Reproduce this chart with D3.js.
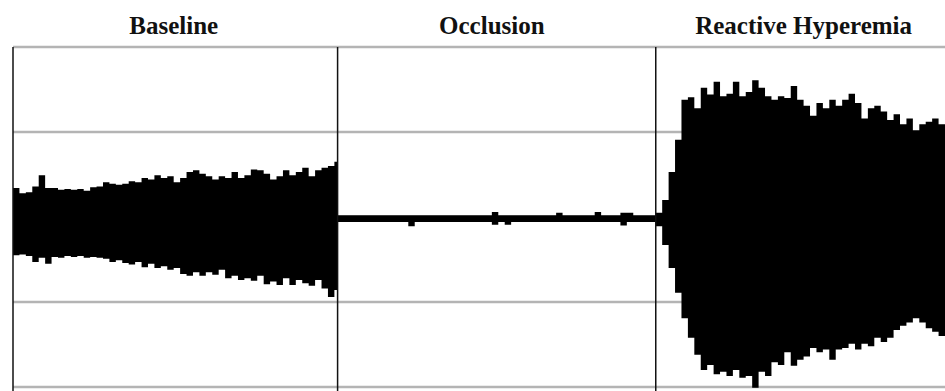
<!DOCTYPE html>
<html>
<head>
<meta charset="utf-8">
<script src="https://cdn.jsdelivr.net/npm/d3@7"></script>
<style>
  body { margin: 0; background: #fff; }
</style>
</head>
<body>
<figure id="chart" style="margin:0"></figure>
<script>
// phases (seconds)
const phaseNames = ["Baseline", "Occlusion", "Reactive Hyperemia"];
const phaseStart = [0, 101, 200];
const phaseLabelAt = [50, 149, 246];
const yTicks = [-2, -1, 0, 1, 2];

// envelope of the signal, sampled every 2 s
const baselineT = d3.range(0, 101, 2);
const baselineUpper = [0.34, 0.28, 0.29, 0.36, 0.49, 0.34, 0.34, 0.32, 0.33, 0.32, 0.33, 0.31, 0.35, 0.36, 0.41, 0.39, 0.38, 0.39, 0.42, 0.41,
  0.46, 0.44, 0.49, 0.46, 0.48, 0.41, 0.46, 0.53, 0.55, 0.51, 0.48, 0.44, 0.48, 0.46, 0.53, 0.46, 0.49, 0.56, 0.55, 0.51,
  0.44, 0.48, 0.55, 0.49, 0.53, 0.58, 0.48, 0.55, 0.58, 0.60, 0.65];
const baselineLower = [-0.45, -0.44, -0.46, -0.53, -0.48, -0.55, -0.47, -0.48, -0.46, -0.47, -0.46, -0.48, -0.47, -0.48, -0.49, -0.53, -0.51, -0.54, -0.56, -0.53,
  -0.59, -0.55, -0.60, -0.58, -0.62, -0.60, -0.67, -0.69, -0.65, -0.69, -0.65, -0.68, -0.62, -0.72, -0.69, -0.74, -0.72, -0.75, -0.69, -0.79,
  -0.76, -0.80, -0.72, -0.80, -0.74, -0.78, -0.81, -0.74, -0.84, -0.94, -0.86];

const occlusionT = d3.range(101, 200, 2);
const occlusionUpper = [0.02, 0.02, 0.02, 0.02, 0.02, 0.02, 0.02, 0.02, 0.02, 0.02, 0.02, 0.02, 0.02, 0.02, 0.02, 0.02, 0.02, 0.02, 0.02, 0.02,
  0.02, 0.02, 0.02, 0.02, 0.06, 0.02, 0.02, 0.02, 0.02, 0.02, 0.02, 0.02, 0.02, 0.02, 0.05, 0.02, 0.02, 0.02, 0.02, 0.02,
  0.06, 0.02, 0.02, 0.02, 0.05, 0.05, 0.02, 0.02, 0.02, 0.02];
const occlusionLower = [-0.06, -0.06, -0.06, -0.06, -0.06, -0.06, -0.06, -0.06, -0.06, -0.06, -0.06, -0.11, -0.06, -0.06, -0.06, -0.06, -0.06, -0.06, -0.06, -0.06,
  -0.06, -0.06, -0.06, -0.06, -0.09, -0.06, -0.09, -0.06, -0.06, -0.06, -0.06, -0.06, -0.06, -0.06, -0.06, -0.06, -0.06, -0.06, -0.06, -0.06,
  -0.06, -0.06, -0.06, -0.06, -0.10, -0.06, -0.06, -0.06, -0.06, -0.06];

const hyperemiaT = d3.range(200, 291, 2);
const hyperemiaUpper = [0.05, 0.20, 0.53, 0.91, 1.38, 1.41, 1.28, 1.52, 1.44, 1.59, 1.42, 1.45, 1.59, 1.42, 1.47, 1.61, 1.52, 1.42, 1.38, 1.42,
  1.40, 1.54, 1.38, 1.31, 1.19, 1.34, 1.28, 1.38, 1.31, 1.38, 1.45, 1.34, 1.16, 1.28, 1.31, 1.24, 1.14, 1.21, 1.09, 1.16,
  1.02, 1.09, 1.12, 1.16, 1.09, 1.12];
const hyperemiaLower = [-0.11, -0.33, -0.60, -0.89, -1.19, -1.42, -1.62, -1.80, -1.74, -1.85, -1.82, -1.87, -1.80, -1.89, -1.87, -2.01, -1.82, -1.87, -1.71, -1.74,
  -1.59, -1.75, -1.68, -1.64, -1.54, -1.59, -1.56, -1.68, -1.56, -1.54, -1.49, -1.56, -1.49, -1.52, -1.42, -1.47, -1.42, -1.33, -1.28, -1.24,
  -1.19, -1.24, -1.31, -1.35, -1.40, -1.45];

class ChartFactory {
  constructor(width, height) {
    this.width = width
    this.height = height
  }

  createSvg(id) {
    this.svg = d3.select("figure#" + id)
      .append("svg")
      .attr("width", this.width)
      .attr("height", this.height)
      .style("display", "block")
  }

  createAxes() {
    this.x = d3.scaleLinear().domain([0, 290]).range([13, this.width])
    this.y = d3.scaleLinear().domain([-2, 2]).range([387, 47])
  }

  addGrid() {
    this.svg.append("g")
      .selectAll("line")
      .data(yTicks)
      .join("line")
      .attr("x1", this.x(0))
      .attr("x2", this.width)
      .attr("y1", d => this.y(d))
      .attr("y2", d => this.y(d))
      .attr("stroke", "#b4b4b4")
      .attr("stroke-width", 2.5)
  }

  addWave(t, upper, lower) {
    const data = t.map((d, i) => ({ t: d, hi: upper[i], lo: lower[i] }))
    const area = d3.area()
      .curve(d3.curveStepAfter)
      .x(d => this.x(d.t))
      .y0(d => this.y(d.lo))
      .y1(d => this.y(d.hi))
    this.svg.append("path")
      .datum(data)
      .attr("fill", "#000")
      .attr("d", area)
  }

  addPhaseLines() {
    this.svg.append("g")
      .selectAll("line")
      .data(phaseStart)
      .join("line")
      .attr("x1", d => this.x(d))
      .attr("x2", d => this.x(d))
      .attr("y1", this.y(2))
      .attr("y2", this.height)
      .attr("stroke", "#111")
      .attr("stroke-width", 1.5)
  }

  addTitles() {
    this.svg.append("g")
      .selectAll("text")
      .data(phaseNames)
      .join("text")
      .attr("x", (d, i) => this.x(phaseLabelAt[i]))
      .attr("y", 34)
      .attr("text-anchor", "middle")
      .style("font", "bold 25px 'Liberation Serif', 'Times New Roman', serif")
      .attr("fill", "#111")
      .text(d => d)
  }
}

const chart = new ChartFactory(945, 391)
chart.createSvg("chart")
chart.createAxes()
chart.addGrid()
chart.addWave(
  baselineT.concat(occlusionT, hyperemiaT),
  baselineUpper.concat(occlusionUpper, hyperemiaUpper),
  baselineLower.concat(occlusionLower, hyperemiaLower)
)
chart.addPhaseLines()
chart.addTitles()
</script>
</body>
</html>
